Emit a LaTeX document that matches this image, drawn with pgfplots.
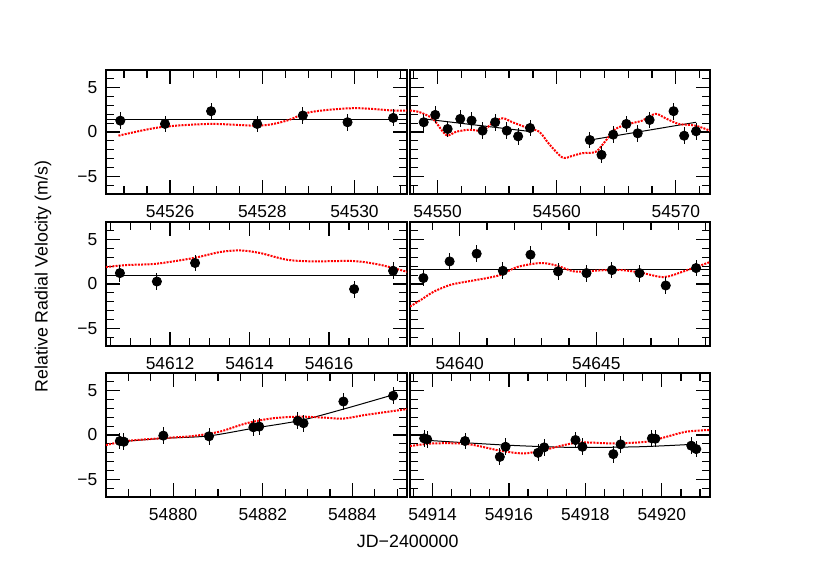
\documentclass[border=0pt]{standalone}
\usepackage{fontspec}
\setmainfont{Liberation Sans}
\usepackage{pgfplots}
\pgfplotsset{compat=1.18}

% x values are JD - 54500
\pgfplotsset{
  rv/.style={scale only axis, width=150.5pt, height=62pt, anchor=south west,
    ymin=-7, ymax=7, ytick={-5,0,5}, yticklabels={−5,0,5},
    minor ytick={-6,-4,-3,-2,-1,1,2,3,4,6},
    axis line style={line width=0.55pt},
    major tick length=7pt, minor tick length=4pt,
    tick style={black, line width=0.6pt},
    tick label style={font=\fontsize{8.7}{10}\selectfont},
    xticklabel shift=2pt, yticklabel shift=0.8pt},
  rvr/.style={rv, yticklabels={}, width=150pt},
  pts/.style={only marks, mark=*, mark size=2.3pt, black,
    error bars/.cd, y dir=both, y fixed=0.95, error mark=none,
    error bar style={line width=0.5pt, black}},
  fit/.style={black, line width=0.5pt, no marks},
  mdl/.style={red, line width=1pt, dash pattern=on 1pt off 0.6pt, no marks, smooth},
}

\begin{document}
\begin{tikzpicture}
\path[use as bounding box] (0,0) rectangle (415pt,293.5pt);

% ---- row 1 ----
\begin{axis}[rv, at={(53pt,196.5pt)}, xmin=24.61, xmax=31.14,
  xtick={26,28,30}, xticklabels={54526,54528,54530},
  minor xtick={25,25.5,...,31}]
\addplot[fit] coordinates {(24.61,1.44) (31.14,1.44)};
\addplot[mdl] coordinates {(24.88,-0.42) (25.78,0.53) (26.87,0.91) (27.95,0.72)
  (28.53,1.28) (29.04,2.24) (29.98,2.69) (30.84,2.42) (31.14,2.42)};
\addplot[pts] coordinates {(24.92,1.28) (25.89,0.91) (26.89,2.35) (27.89,0.91)
  (28.88,1.86) (29.85,1.10) (30.84,1.59)};
\end{axis}

\begin{axis}[rvr, at={(205pt,196.5pt)}, xmin=47.68, xmax=72.87,
  xtick={50,60,70}, xticklabels={54550,54560,54570},
  minor xtick={48,50,...,72}]
\addplot[fit] coordinates {(48.7,1.5) (57.8,0.05)};
\addplot[fit] coordinates {(62.78,-0.91) (71.7,1.10)};
\addplot[mdl] coordinates {(47.68,2.42) (48.48,2.24) (49.6,1.48) (50.72,-0.34)
  (51.56,0.03) (52.67,0.26) (53.79,0.15) (54.62,1.02) (55.46,1.55) (56.29,1.10)
  (57.41,0.53) (58.53,0.03) (59.36,-1.36) (60.48,-2.88) (61.32,-2.69)
  (62.15,-2.39) (63.27,-2.24) (64.11,-0.99) (64.94,0.34) (66.05,0.91)
  (67.17,1.28) (68.29,2.05) (69.13,1.55) (70.25,0.91) (71.64,0.72) (72.87,0.15)};
\addplot[pts] coordinates {(48.83,1.10) (49.80,1.93) (50.84,0.34) (51.90,1.48)
  (52.85,1.29) (53.77,0.15) (54.83,1.10) (55.81,0.15) (56.76,-0.49) (57.76,0.45)
  (62.78,-0.91) (63.76,-2.58) (64.74,-0.30) (65.85,0.91) (66.80,-0.15)
  (67.80,1.36) (69.81,2.35) (70.70,-0.42) (71.70,0.08)};
\end{axis}

% ---- row 2 ----
\begin{axis}[rv, at={(53pt,120.5pt)}, xmin=110.39, xmax=117.96,
  xtick={112,114,116}, xticklabels={54612,54614,54616},
  minor xtick={110.5,111,...,117.5}]
\addplot[fit] coordinates {(110.39,0.93) (117.96,0.93)};
\addplot[mdl] coordinates {(110.39,1.91) (110.91,2.14) (111.66,2.29) (112.59,2.93)
  (113.26,3.61) (113.76,3.79) (114.26,3.5) (114.94,2.74) (115.6,2.55)
  (116.61,2.59) (117.28,2.17) (117.96,1.38)};
\addplot[pts] coordinates {(110.74,1.23) (111.67,0.28) (112.63,2.37)
  (116.63,-0.58) (117.61,1.49)};
\end{axis}

\begin{axis}[rvr, at={(205pt,120.5pt)}, xmin=138.18, xmax=149.16,
  xtick={140,145}, xticklabels={54640,54645},
  minor xtick={139,140,...,149}]
\addplot[fit] coordinates {(138.18,1.68) (149.16,1.68)};
\addplot[mdl] coordinates {(138.18,-2.55) (138.58,-1.79) (139.06,-0.85)
  (139.67,-0.09) (140.28,0.28) (141.0,0.67) (141.5,1.04) (142.1,1.91)
  (142.96,2.37) (143.57,2.06) (144.18,1.42) (144.9,1.49) (145.76,1.61)
  (146.6,1.30) (147.46,0.78) (148.19,1.42) (149.16,2.48)};
\addplot[pts] coordinates {(138.67,0.67) (139.63,2.55) (140.62,3.42) (141.58,1.49)
  (142.59,3.31) (143.6,1.42) (144.64,1.23) (145.57,1.57) (146.58,1.23)
  (147.54,-0.17) (148.65,1.80)};
\end{axis}

% ---- row 3 ----
\begin{axis}[rv, at={(53pt,45pt)}, xmin=378.5, xmax=385.22,
  xtick={380,382,384}, xticklabels={54880,54882,54884},
  minor xtick={378.5,379,...,385}]
\addplot[fit, smooth] coordinates {(378.81,-0.76) (379.78,-0.38) (380.78,-0.11)
  (381.79,0.76) (382.83,1.63) (383.8,2.92) (384.92,4.55)};
\addplot[mdl] coordinates {(378.5,-1.14) (378.96,-0.68) (379.7,-0.38) (380.45,-0.11)
  (381.04,0.38) (381.64,1.33) (382.23,1.89) (382.83,2.07) (383.4,1.95)
  (383.8,1.85) (384.3,2.27) (385.22,2.92)};
\addplot[pts] coordinates {(378.81,-0.68) (378.90,-0.76) (379.78,-0.07)
  (380.80,-0.15) (381.79,0.87) (381.92,0.95) (382.78,1.59) (382.91,1.33)
  (383.8,3.78) (384.91,4.43)};
\end{axis}

\begin{axis}[rvr, at={(205pt,45pt)}, xmin=413.41, xmax=421.26,
  xtick={414,416,418,420}, xticklabels={54914,54916,54918,54920},
  minor xtick={413.5,414,...,421}]
\addplot[fit, smooth] coordinates {(413.74,-0.57) (415.91,-1.14) (417.65,-1.40)
  (419.39,-1.33) (420.78,-1.06)};
\addplot[mdl] coordinates {(413.41,-1.25) (414.04,-0.95) (414.91,-1.02)
  (415.78,-1.78) (416.39,-2.08) (416.91,-1.70) (417.78,-0.87) (418.73,-0.95)
  (419.6,-0.76) (420.13,-0.19) (420.65,0.38) (421.26,0.57)};
\addplot[pts] coordinates {(413.78,-0.38) (413.86,-0.49) (414.85,-0.68)
  (415.76,-2.47) (415.91,-1.33) (416.76,-2.01) (416.92,-1.40) (417.74,-0.57)
  (417.92,-1.33) (418.73,-2.16) (418.92,-1.06) (419.74,-0.38) (419.83,-0.42)
  (420.77,-1.21) (420.90,-1.59)};
\end{axis}

\node[rotate=90, font=\fontsize{8.9}{10}\selectfont] at (21.5pt,155.25pt) {Relative Radial Velocity (m/s)};
\node[font=\fontsize{8.9}{10}\selectfont] at (203.85pt,23pt) {JD−2400000};
\end{tikzpicture}
\end{document}
